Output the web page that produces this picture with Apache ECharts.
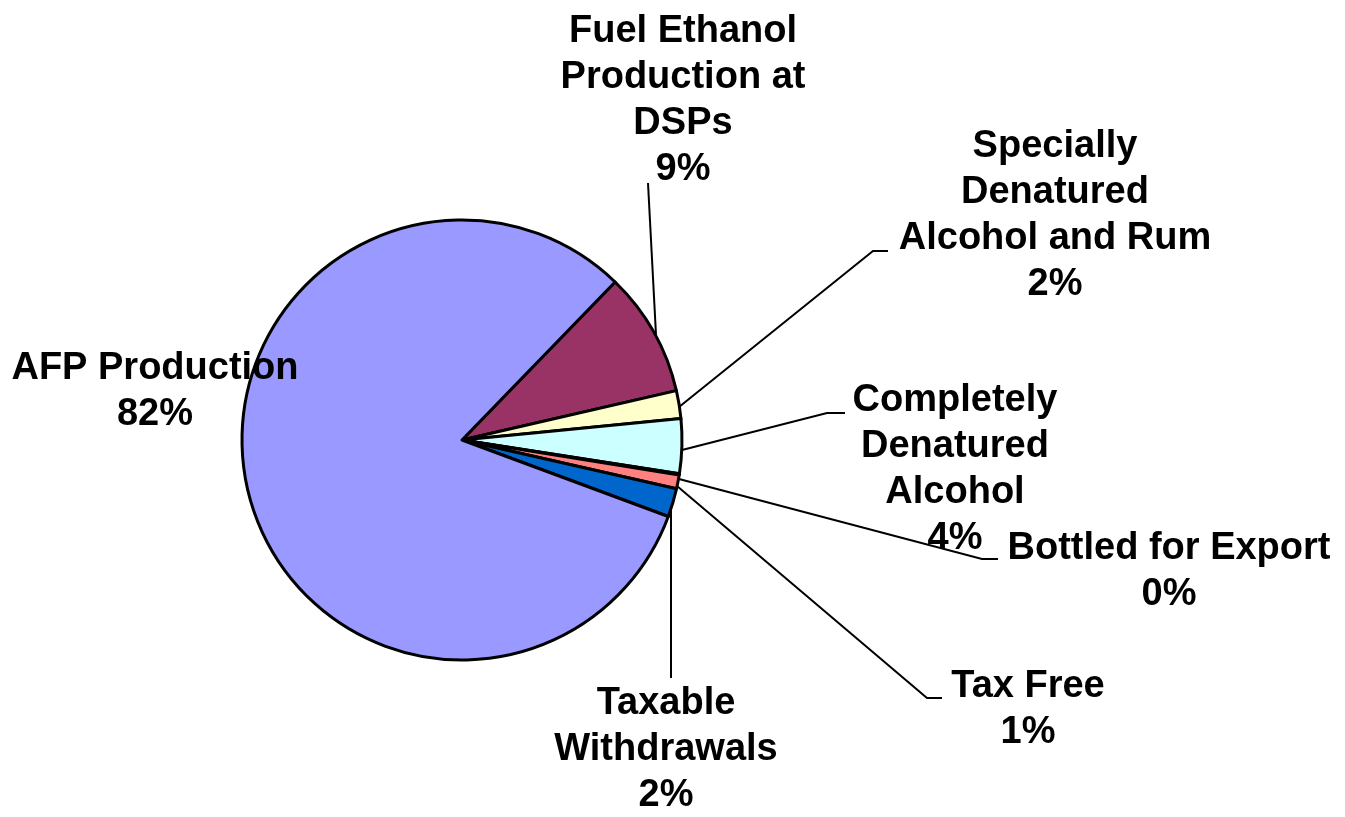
<!DOCTYPE html>
<html>
<head>
<meta charset="utf-8">
<script src="https://cdn.jsdelivr.net/npm/echarts@6/dist/echarts.min.js"></script>
<style>
html,body{margin:0;padding:0;background:#fff;}
#chart{width:1345px;height:817px;}
</style>
</head>
<body>
<div id="chart"></div>
<script>
// Data (percent shares)
var categories = [
  'Fuel Ethanol\nProduction at\nDSPs',
  'Specially\nDenatured\nAlcohol and Rum',
  'Completely\nDenatured\nAlcohol',
  'Bottled for Export',
  'Tax Free',
  'Taxable\nWithdrawals',
  'AFP Production'
];
var values = [9.15, 2.05, 4.0, 0.1, 1.0, 2.1, 81.6];
var colors = ['#993366', '#FFFFCC', '#CCFFFF', '#660066', '#FF8080', '#0066CC', '#9999FF'];

// Label layout (label block centre and leader line points), in pixels
var labelLayouts = [
  {x: 683, y: 101, line: [[656, 335], [648, 183], [648, 183]]},
  {x: 1055, y: 216, line: [[679, 407], [873, 251], [888, 251]]},
  {x: 955, y: 470, line: [[682, 450], [827, 413], [845, 413]]},
  {x: 1169, y: 572, line: [[679, 479], [982, 559], [998, 559]]},
  {x: 1028, y: 710, line: [[677, 486], [927, 698], [942, 698]]},
  {x: 666, y: 750, line: [[671, 506], [671, 678], [671, 678]]},
  {x: 155, y: 392, line: null}
];

var chart = echarts.init(document.getElementById('chart'), null, {renderer: 'canvas'});
var seriesData = categories.map(function (c, i) {
  var item = {name: c, value: values[i], itemStyle: {color: colors[i]}};
  if (!labelLayouts[i].line) item.labelLine = {show: false};
  return item;
});

chart.setOption({
  animation: false,
  backgroundColor: '#ffffff',
  series: [{
    type: 'pie',
    center: [462, 440],
    radius: 220,
    startAngle: 45.9,
    clockwise: true,
    avoidLabelOverlap: false,
    minAngle: 0,
    itemStyle: {borderColor: '#000', borderWidth: 3},
    label: {
      show: true,
      color: '#000',
      fontFamily: 'Liberation Sans, Arial, sans-serif',
      fontWeight: 'bold',
      fontSize: 38,
      lineHeight: 46,
      align: 'center',
      formatter: function (p) {
        return p.name + '\n' + Math.round(p.percent) + '%';
      }
    },
    labelLine: {show: true, smooth: false, lineStyle: {color: '#000', width: 2}},
    labelLayout: function (params) {
      var L = labelLayouts[params.dataIndex];
      var out = {x: L.x, y: L.y, align: 'center', verticalAlign: 'middle'};
      if (L.line) out.labelLinePoints = L.line;
      return out;
    },
    data: seriesData
  }]
});
</script>
</body>
</html>
